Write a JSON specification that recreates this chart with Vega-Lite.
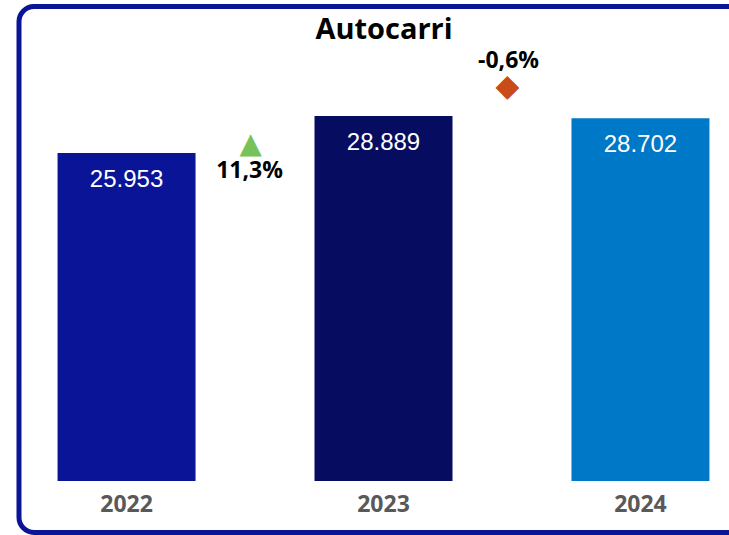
{
  "$schema": "https://vega.github.io/schema/vega-lite/v6.json",
  "autosize": {"type": "none"},
  "padding": {"left": 19, "top": 6.5, "right": -19, "bottom": 2.5},
  "width": 729,
  "height": 526,
  "config": {
    "view": {"stroke": "#0A1496", "strokeWidth": 5, "cornerRadius": 15, "fill": "#ffffff"},
    "locale": {
      "number": {"decimal": ",", "thousands": ".", "grouping": [3], "currency": ["€", ""], "minus": "-", "percent": "%"}
    }
  },
  "datasets": {
    "anni": [
      {"anno": "2022", "valore": 25953},
      {"anno": "2023", "valore": 28889},
      {"anno": "2024", "valore": 28702}
    ],
    "variazioni": [
      {"da": "2022", "a": "2023", "da_valore": 25953, "variazione": 0.113, "direzione": "su"},
      {"da": "2023", "a": "2024", "da_valore": 28889, "variazione": -0.006, "direzione": "giu"}
    ]
  },
  "resolve": {"axis": {"x": "independent"}},
  "layer": [
    {
      "data": {"name": "anni"},
      "mark": {"type": "bar"},
      "encoding": {
        "x": {
          "field": "anno", "type": "nominal",
          "scale": {"paddingInner": 0.463, "paddingOuter": 0.15},
          "axis": {
            "orient": "bottom", "title": null, "domain": false, "ticks": false, "grid": false,
            "offset": -50, "labelPadding": 10.5, "labelAngle": 0,
            "labelFont": "Open Sans", "labelFontSize": 23, "labelFontWeight": "bold", "labelColor": "#595959"
          }
        },
        "y": {
          "field": "valore", "type": "quantitative",
          "scale": {"domain": [-4076, 37555], "nice": false, "zero": false},
          "axis": null
        },
        "color": {
          "field": "anno", "type": "nominal",
          "scale": {"domain": ["2022", "2023", "2024"], "range": ["#0A1496", "#060D60", "#0078C8"]},
          "legend": null
        }
      }
    },
    {
      "data": {"name": "anni"},
      "mark": {"type": "text", "font": "Liberation Sans", "fontSize": 24, "color": "#ffffff", "baseline": "alphabetic", "dy": 34},
      "encoding": {
        "x": {
          "field": "anno", "type": "nominal",
          "axis": {
            "orient": "top", "title": "Autocarri", "labels": false, "domain": false, "ticks": false, "grid": false,
            "offset": -32, "titlePadding": 0, "titleBaseline": "alphabetic",
            "titleFont": "Open Sans", "titleFontSize": 29, "titleFontWeight": "bold", "titleColor": "#000000"
          }
        },
        "y": {"field": "valore", "type": "quantitative"},
        "text": {"field": "valore", "type": "quantitative", "format": ",d"}
      }
    },
    {
      "data": {"name": "variazioni"},
      "transform": [{"filter": "datum.direzione === 'su'"}],
      "layer": [
        {
          "mark": {"type": "text", "text": "▲", "font": "DejaVu Sans", "fontSize": 29, "color": "#77C35A", "baseline": "middle", "dx": 124, "dy": -9.5},
          "encoding": {
            "x": {"field": "da", "type": "nominal", "axis": null},
            "y": {"field": "da_valore", "type": "quantitative"}
          }
        },
        {
          "mark": {"type": "text", "font": "Open Sans", "fontSize": 23, "fontWeight": "bold", "color": "#000000", "baseline": "alphabetic", "dx": 123, "dy": 25},
          "encoding": {
            "x": {"field": "da", "type": "nominal", "axis": null},
            "y": {"field": "da_valore", "type": "quantitative"},
            "text": {"field": "variazione", "type": "quantitative", "format": ".1%"}
          }
        }
      ]
    },
    {
      "data": {"name": "variazioni"},
      "transform": [{"filter": "datum.direzione === 'giu'"}],
      "layer": [
        {
          "mark": {"type": "text", "text": "◆", "font": "DejaVu Sans", "fontSize": 31, "color": "#C84B1A", "baseline": "middle", "dx": 124, "dy": -29},
          "encoding": {
            "x": {"field": "da", "type": "nominal", "axis": null},
            "y": {"field": "da_valore", "type": "quantitative"}
          }
        },
        {
          "mark": {"type": "text", "font": "Open Sans", "fontSize": 23, "fontWeight": "bold", "color": "#000000", "baseline": "alphabetic", "dx": 125, "dy": -48},
          "encoding": {
            "x": {"field": "da", "type": "nominal", "axis": null},
            "y": {"field": "da_valore", "type": "quantitative"},
            "text": {"field": "variazione", "type": "quantitative", "format": ".1%"}
          }
        }
      ]
    }
  ]
}
